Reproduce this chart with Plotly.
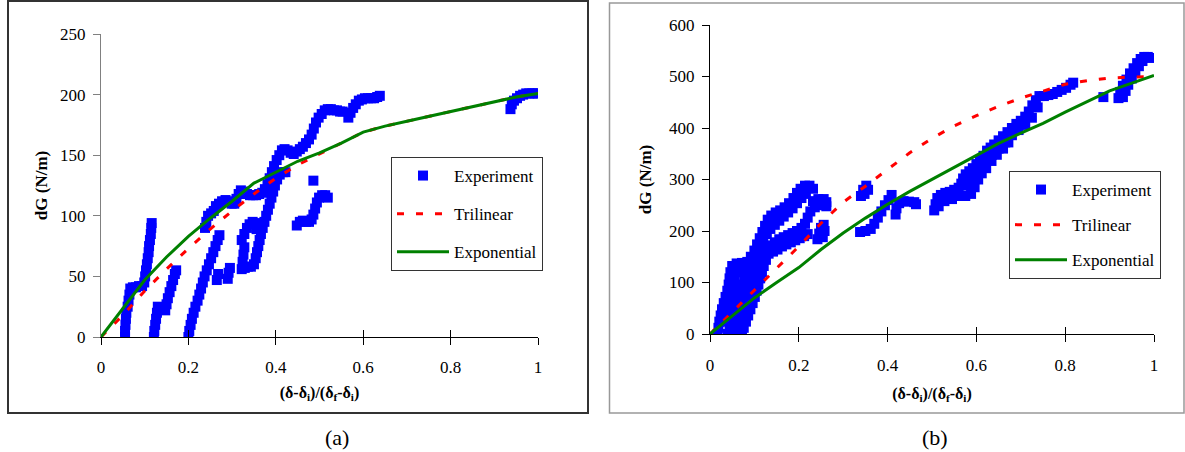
import plotly.graph_objects as go

W, H = 1185, 452
FONT = "Liberation Serif, Times New Roman, DejaVu Serif, serif"

# ---------------- Panel (a) data ----------------
# model curves
curve_a_x = [0, 0.05, 0.1, 0.15, 0.2, 0.25, 0.3, 0.35, 0.4, 0.45, 0.5, 0.55, 0.6, 0.65, 0.7, 0.75, 0.8, 0.85, 0.9, 0.95, 1.0]
tri_a_y = [0, 18, 38, 56, 73, 89, 104, 118, 131, 142, 151, 160, 169, 174, 178, 182, 186, 190, 194, 198, 201]
expo_a_y = [0, 23, 47, 66, 83, 98, 112, 127, 136, 145, 152, 160, 169, 174, 178, 182, 186, 190, 194, 198, 201]

# experiment strands (x, dG)
exp_a_s1 = [(0.055, 0), (0.055, 5), (0.056, 10), (0.057, 15), (0.058, 20), (0.061, 25), (0.063, 30), (0.065, 35),
            (0.067, 40), (0.073, 41), (0.080, 41), (0.087, 42), (0.094, 42), (0.099, 45), (0.101, 50), (0.103, 55),
            (0.105, 60), (0.107, 65), (0.109, 70), (0.110, 75), (0.112, 80), (0.114, 85), (0.115, 90), (0.116, 94)]
exp_a_s2 = [(0.121, 0), (0.122, 5), (0.124, 10), (0.126, 15), (0.128, 20), (0.130, 25)]
exp_a_s3 = [(0.147, 22), (0.150, 27), (0.153, 32), (0.157, 37), (0.161, 42), (0.165, 47), (0.169, 52), (0.172, 55)]
exp_a_s4 = [(0.200, 0), (0.202, 5), (0.205, 10), (0.208, 15), (0.212, 20), (0.216, 25), (0.221, 30), (0.225, 35),
            (0.229, 40), (0.233, 45), (0.237, 50), (0.242, 55), (0.247, 60), (0.252, 65), (0.257, 70), (0.262, 75),
            (0.267, 80), (0.271, 84), (0.265, 47), (0.268, 52), (0.290, 48), (0.292, 53), (0.295, 57)]
exp_a_s5 = [(0.238, 90), (0.241, 95), (0.245, 100), (0.252, 102), (0.258, 104), (0.263, 108), (0.270, 110),
            (0.277, 112), (0.285, 113), (0.292, 112), (0.299, 110), (0.305, 110), (0.310, 114), (0.315, 118),
            (0.320, 121), (0.327, 120), (0.334, 118), (0.341, 117), (0.348, 117), (0.355, 117), (0.362, 118),
            (0.369, 119), (0.375, 122), (0.381, 126), (0.386, 131), (0.391, 136), (0.396, 141), (0.402, 146),
            (0.408, 150), (0.414, 154), (0.420, 155), (0.427, 154), (0.434, 152), (0.441, 151), (0.448, 153),
            (0.455, 155), (0.462, 157), (0.469, 160), (0.476, 163), (0.482, 167), (0.487, 172), (0.492, 177),
            (0.498, 181), (0.505, 184), (0.512, 187), (0.519, 188), (0.526, 188), (0.533, 187), (0.540, 187),
            (0.547, 186), (0.553, 186), (0.566, 181), (0.571, 185), (0.577, 189), (0.583, 192), (0.590, 195),
            (0.597, 196), (0.604, 197), (0.611, 197), (0.618, 197), (0.625, 197), (0.632, 198), (0.638, 199)]
exp_a_s6 = [(0.322, 80), (0.328, 85), (0.334, 90), (0.340, 93), (0.347, 95), (0.354, 94), (0.356, 89),
            (0.324, 62), (0.326, 68), (0.328, 74),
            (0.322, 56), (0.329, 57), (0.336, 58), (0.343, 58), (0.350, 60), (0.354, 65), (0.357, 70), (0.360, 75),
            (0.363, 80), (0.366, 85), (0.370, 90), (0.374, 95), (0.378, 100), (0.382, 105), (0.386, 110),
            (0.390, 115), (0.394, 120), (0.398, 125), (0.403, 130), (0.409, 134), (0.416, 136), (0.422, 136)]
exp_a_s7 = [(0.448, 92), (0.455, 95), (0.462, 96), (0.469, 95), (0.476, 95), (0.482, 97), (0.486, 101),
            (0.490, 106), (0.494, 111), (0.499, 115), (0.506, 117), (0.513, 117), (0.519, 115), (0.486, 129)]
exp_a_s8 = [(0.937, 188), (0.940, 192), (0.945, 195), (0.952, 197), (0.959, 199), (0.966, 200), (0.973, 201),
            (0.980, 201), (0.987, 201), (0.994, 201), (0.999, 201)]

# ---------------- Panel (b) data ----------------
curve_b_x = [0, 0.05, 0.1, 0.15, 0.2, 0.25, 0.3, 0.35, 0.4, 0.45, 0.5, 0.55, 0.6, 0.65, 0.7, 0.75, 0.8, 0.85, 0.9, 0.95, 1.0]
tri_b_y = [0, 42, 85, 128, 170, 215, 256, 287, 320, 352, 380, 404, 424, 442, 458, 472, 485, 492, 497, 499, 500]
expo_b_y = [0, 35, 70, 100, 129, 164, 196, 225, 252, 277, 300, 323, 347, 370, 390, 409, 431, 452, 472, 487, 502]

exp_b_s1 = [(0.017, 0), (0.019, 12), (0.021, 24), (0.024, 36), (0.027, 48), (0.031, 60), (0.035, 72), (0.039, 84),
            (0.042, 96), (0.044, 108), (0.046, 120), (0.050, 132), (0.060, 137), (0.072, 138), (0.084, 140),
            (0.092, 150), (0.100, 162), (0.106, 174), (0.112, 186), (0.118, 198), (0.124, 210), (0.130, 222),
            (0.138, 230), (0.148, 236), (0.158, 240), (0.168, 246), (0.178, 254), (0.188, 264), (0.196, 274),
            (0.204, 282), (0.214, 288), (0.224, 288), (0.232, 282)]
exp_b_s2 = [(0.032, 24), (0.036, 36), (0.040, 48), (0.044, 60), (0.048, 72), (0.051, 84), (0.054, 96), (0.056, 108),
            (0.058, 120), (0.062, 126), (0.075, 128), (0.088, 134), (0.098, 146), (0.106, 158), (0.114, 170),
            (0.120, 182), (0.128, 194), (0.136, 204), (0.146, 212), (0.156, 220), (0.166, 228), (0.176, 236),
            (0.186, 244), (0.196, 254), (0.206, 264), (0.216, 272)]
exp_b_s3 = [(0.040, 0), (0.044, 12), (0.048, 24), (0.053, 36), (0.058, 48), (0.063, 60), (0.067, 72), (0.070, 84),
            (0.074, 96), (0.078, 108), (0.082, 120), (0.088, 132), (0.096, 144), (0.104, 154)]
exp_b_s4 = [(0.056, 0), (0.060, 12), (0.064, 24), (0.069, 36), (0.074, 48), (0.079, 60), (0.084, 72), (0.088, 84),
            (0.092, 96), (0.096, 108), (0.100, 120), (0.106, 132), (0.112, 144), (0.118, 156)]
exp_b_s5 = [(0.072, 0), (0.076, 12), (0.081, 24), (0.086, 36), (0.091, 48), (0.096, 60), (0.101, 72), (0.105, 84),
            (0.109, 96), (0.113, 108), (0.117, 120), (0.121, 132), (0.126, 144)]
exp_b_s6 = [(0.126, 166), (0.136, 172), (0.146, 178), (0.156, 184), (0.166, 188), (0.176, 192), (0.186, 196),
            (0.196, 200), (0.206, 206), (0.214, 214), (0.220, 226), (0.226, 238), (0.236, 246), (0.246, 250),
            (0.256, 252), (0.262, 248),
            (0.124, 150), (0.132, 156), (0.142, 160), (0.152, 164), (0.162, 170), (0.172, 174), (0.182, 178),
            (0.192, 182), (0.202, 186), (0.212, 190), (0.220, 194)]
exp_b_s7 = [(0.242, 184), (0.246, 195), (0.250, 206), (0.256, 212), (0.258, 200), (0.254, 188),
            (0.232, 258), (0.244, 262), (0.256, 262), (0.262, 256)]
exp_b_s8 = [(0.340, 268), (0.345, 280), (0.352, 288), (0.356, 280), (0.348, 272),
            (0.338, 198), (0.350, 200), (0.362, 204), (0.370, 214), (0.378, 226), (0.386, 238), (0.394, 250),
            (0.402, 260), (0.409, 270),
            (0.418, 232), (0.420, 244), (0.426, 254), (0.436, 258), (0.448, 257), (0.460, 256), (0.464, 252)]
exp_b_s9 = [(0.505, 240), (0.508, 252), (0.512, 264), (0.520, 270), (0.530, 274), (0.540, 276), (0.550, 280),
            (0.560, 284), (0.566, 292), (0.570, 302), (0.576, 310), (0.584, 316), (0.592, 322), (0.600, 330),
            (0.608, 338), (0.616, 346), (0.624, 356), (0.632, 362), (0.640, 368), (0.650, 376), (0.660, 384),
            (0.670, 392), (0.680, 400), (0.690, 408), (0.700, 414), (0.710, 422), (0.718, 432), (0.726, 444),
            (0.734, 454), (0.742, 462), (0.752, 462), (0.762, 464), (0.772, 466), (0.782, 470), (0.792, 474),
            (0.802, 478), (0.812, 484), (0.818, 488)]
exp_b_s10 = [(0.515, 248), (0.528, 258), (0.545, 262), (0.560, 268), (0.575, 288), (0.590, 300), (0.605, 316),
             (0.620, 332), (0.635, 348), (0.650, 360), (0.665, 372), (0.680, 386), (0.695, 396), (0.710, 406),
             (0.725, 420), (0.738, 440),
             (0.575, 268), (0.588, 272), (0.596, 285), (0.604, 300), (0.612, 312), (0.622, 322), (0.634, 336),
             (0.646, 348), (0.660, 360), (0.672, 372)]
exp_b_s11 = [(0.886, 460), (0.920, 458), (0.924, 470), (0.930, 482), (0.938, 494), (0.946, 506), (0.954, 516),
             (0.962, 526), (0.970, 534), (0.978, 538), (0.986, 538), (0.994, 536),
             (0.930, 460), (0.936, 472), (0.942, 484), (0.950, 496), (0.958, 508), (0.966, 520), (0.974, 530)]

x_ticks = [0, 0.2, 0.4, 0.6, 0.8, 1]


def unzip(strands):
    xs, ys = [], []
    for s in strands:
        for px, py in s:
            xs.append(px)
            ys.append(py)
    return xs, ys


exp_a_x, exp_a_y = unzip([exp_a_s1, exp_a_s2, exp_a_s3, exp_a_s4, exp_a_s5, exp_a_s6, exp_a_s7, exp_a_s8])
exp_b_x, exp_b_y = unzip([exp_b_s1, exp_b_s2, exp_b_s3, exp_b_s4, exp_b_s5, exp_b_s6, exp_b_s7, exp_b_s8,
                          exp_b_s9, exp_b_s10, exp_b_s11])

BLUE, RED, GREEN = "#0000FF", "#FF0000", "#008000"
MK = dict(symbol="square", size=10, color=BLUE, line=dict(width=0))

fig = go.Figure()
# panel (a)
fig.add_trace(go.Scatter(x=exp_a_x, y=exp_a_y, mode="markers", marker=MK, name="Experiment",
                         xaxis="x", yaxis="y", legend="legend", legendgroup="a1"))
fig.add_trace(go.Scatter(x=curve_a_x, y=tri_a_y, mode="lines", line=dict(color=RED, width=3, dash="7px,12px"),
                         name="Trilinear", xaxis="x", yaxis="y", legend="legend", legendgroup="a2"))
fig.add_trace(go.Scatter(x=curve_a_x, y=expo_a_y, mode="lines", line=dict(color=GREEN, width=3),
                         name="Exponential", xaxis="x", yaxis="y", legend="legend", legendgroup="a3"))
# panel (b)
fig.add_trace(go.Scatter(x=exp_b_x, y=exp_b_y, mode="markers", marker=MK, name="Experiment",
                         xaxis="x2", yaxis="y2", legend="legend2", legendgroup="b1"))
fig.add_trace(go.Scatter(x=curve_b_x, y=tri_b_y, mode="lines", line=dict(color=RED, width=3, dash="7px,12px"),
                         name="Trilinear", xaxis="x2", yaxis="y2", legend="legend2", legendgroup="b2"))
fig.add_trace(go.Scatter(x=curve_b_x, y=expo_b_y, mode="lines", line=dict(color=GREEN, width=3),
                         name="Exponential", xaxis="x2", yaxis="y2", legend="legend2", legendgroup="b3"))
# helper traces for the inward half of the crossing x ticks
fig.add_trace(go.Scatter(x=[None], y=[None], xaxis="x3", yaxis="y", showlegend=False, hoverinfo="skip"))
fig.add_trace(go.Scatter(x=[None], y=[None], xaxis="x4", yaxis="y2", showlegend=False, hoverinfo="skip"))

tickfont = dict(family=FONT, size=17, color="black")
xtitle = "<b>(δ-δ<sub>i</sub>)/(δ<sub>f</sub>-δ<sub>i</sub>)</b>"
ytitle = "<b>dG (N/m)</b>"


def xaxis(domain, anchor, lab_off, title_off):
    return dict(domain=domain, anchor=anchor, range=[0, 1], tickvals=x_ticks, showline=True, linecolor="black",
                linewidth=1, ticks="outside", ticklen=7, tickcolor="black", tickwidth=1, showgrid=False,
                zeroline=False, tickfont=tickfont, ticklabelstandoff=lab_off, automargin=False,
                title=dict(text=xtitle, font=dict(family=FONT, size=16, color="black"), standoff=title_off))


def xaxis_in(over, anchor):
    return dict(overlaying=over, anchor=anchor, range=[0, 1], tickvals=x_ticks, showline=False, ticks="inside",
                ticklen=7, tickcolor="black", tickwidth=1, showticklabels=False, showgrid=False, zeroline=False,
                automargin=False)


def yaxis(domain, anchor, rng, dt, col, title_off):
    return dict(domain=domain, anchor=anchor, range=rng, dtick=dt, tick0=0, showline=True, linecolor=col,
                linewidth=1, ticks="outside", ticklen=7, tickcolor=col, tickwidth=1, showgrid=False, zeroline=False,
                tickfont=tickfont, ticklabelstandoff=4, automargin=False,
                title=dict(text=ytitle, font=dict(family=FONT, size=17, color="black"), standoff=title_off))


LEG = dict(xanchor="left", yanchor="top", bgcolor="white", bordercolor="#333333", borderwidth=1,
           font=dict(family=FONT, size=17, color="black"), itemwidth=52, traceorder="grouped")

fig.update_layout(
    width=W, height=H, autosize=False, margin=dict(l=0, r=0, t=0, b=0, pad=0, autoexpand=False),
    paper_bgcolor="white", plot_bgcolor="white", showlegend=True,
    xaxis=xaxis([101 / W, 538 / W], "y", 8, 10),
    yaxis=yaxis([(H - 337) / H, (H - 34) / H], "x", [0, 250], 50, "#808080", 8),
    xaxis2=xaxis([710 / W, 1154 / W], "y2", 9, 13),
    yaxis2=yaxis([(H - 334) / H, (H - 25) / H], "x2", [0, 600], 100, "black", 13),
    xaxis3=xaxis_in("x", "y"),
    xaxis4=xaxis_in("x2", "y2"),
    legend=dict(LEG, x=391 / W, y=1 - 157 / H, tracegroupgap=13),
    legend2=dict(LEG, x=1009 / W, y=1 - 171 / H, tracegroupgap=10),
    shapes=[
        dict(type="rect", xref="paper", yref="paper", x0=8 / W, x1=588 / W, y0=1 - 413 / H, y1=1 - 1 / H,
             line=dict(color="#333333", width=2), layer="below"),
        dict(type="rect", xref="paper", yref="paper", x0=609.5 / W, x1=1184 / W, y0=1 - 413 / H, y1=1 - 3 / H,
             line=dict(color="#999999", width=1.5), layer="below"),
    ],
    annotations=[
        dict(text="(a)", x=337 / W, y=1 - 437 / H, xref="paper", yref="paper", showarrow=False,
             font=dict(family=FONT, size=22, color="black"), xanchor="center", yanchor="middle"),
        dict(text="(b)", x=935 / W, y=1 - 437 / H, xref="paper", yref="paper", showarrow=False,
             font=dict(family=FONT, size=22, color="black"), xanchor="center", yanchor="middle"),
    ],
)

fig.write_html("out.html")
